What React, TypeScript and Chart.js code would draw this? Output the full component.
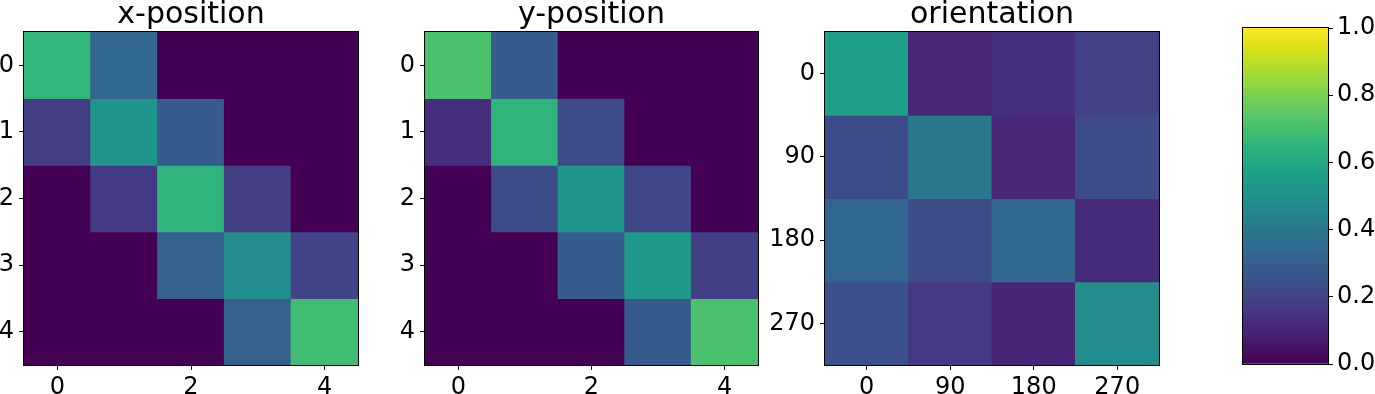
import React, { useEffect, useRef } from 'react';
import { Chart, registerables } from 'chart.js';

Chart.register(...registerables);
Chart.defaults.font.family = "'DejaVu Sans', sans-serif";

// ---------------- data ----------------
const positionLabels = ['0', '1', '2', '3', '4'];
const positionXTicks = [0, 2, 4];
const positionYTicks = [0, 1, 2, 3, 4];

const orientationLabels = ['0', '90', '180', '270'];
const orientationTicks = [0, 1, 2, 3];

const xPositionValues = [
  [0.66, 0.33, 0.0, 0.0, 0.0],
  [0.18, 0.52, 0.29, 0.0, 0.0],
  [0.0, 0.17, 0.65, 0.18, 0.0],
  [0.0, 0.0, 0.31, 0.48, 0.2],
  [0.0, 0.0, 0.0, 0.31, 0.69],
];

const yPositionValues = [
  [0.71, 0.29, 0.0, 0.0, 0.0],
  [0.13, 0.65, 0.23, 0.0, 0.0],
  [0.0, 0.23, 0.52, 0.21, 0.0],
  [0.0, 0.0, 0.29, 0.54, 0.185],
  [0.0, 0.0, 0.0, 0.29, 0.71],
];

const orientationValues = [
  [0.56, 0.11, 0.14, 0.19],
  [0.23, 0.4, 0.11, 0.23],
  [0.33, 0.23, 0.33, 0.12],
  [0.245, 0.17, 0.105, 0.48],
];

const colorbarTicks = [0, 0.2, 0.4, 0.6, 0.8, 1.0];

const viridisStops = [
  '#440154', '#471365', '#482475', '#463480', '#414487', '#3b528b', '#355f8d',
  '#2f6c8e', '#2a788e', '#25848e', '#21918c', '#1e9c89', '#22a884', '#2fb47c',
  '#44bf70', '#5ec962', '#7ad151', '#9bd93c', '#bddf26', '#dfe318', '#fde725',
];

// ---------------- helpers ----------------
function hexToRgb(h: string) {
  const n = parseInt(h.slice(1), 16);
  return [(n >> 16) & 255, (n >> 8) & 255, n & 255];
}

function viridis(t: number) {
  const v = Math.max(0, Math.min(1, t));
  const n = viridisStops.length - 1;
  const p = v * n;
  const i = Math.min(Math.floor(p), n - 1);
  const f = p - i;
  const a = hexToRgb(viridisStops[i]);
  const b = hexToRgb(viridisStops[i + 1]);
  const c = a.map((x, k) => Math.round(x + (b[k] - x) * f));
  return `rgb(${c[0]}, ${c[1]}, ${c[2]})`;
}

const TICK_FONT = { size: 24, family: "'DejaVu Sans', sans-serif" };

const framePlugin = {
  id: 'frameAndTitle',
  afterDraw(chart: any, _args: any, opts: any) {
    const { ctx, chartArea: a } = chart;
    ctx.save();
    ctx.strokeStyle = '#000';
    ctx.lineWidth = 1;
    ctx.strokeRect(
      Math.round(a.left) - 0.5,
      Math.round(a.top) - 0.5,
      Math.round(a.right - a.left) + 1,
      Math.round(a.bottom - a.top) + 1
    );
    if (opts && opts.text) {
      ctx.fillStyle = '#000';
      ctx.font = "30px 'DejaVu Sans', sans-serif";
      ctx.textAlign = 'center';
      ctx.textBaseline = 'alphabetic';
      ctx.fillText(opts.text, (a.left + a.right) / 2, a.top - 9);
    }
    ctx.restore();
  },
};

type HeatmapProps = {
  values: number[][];
  labels: string[];
  xTicks: number[];
  yTicks: number[];
  title: string;
  left: number;
  width: number;
  yAxisWidth: number;
  padRight: number;
};

const tickGrid = {
  drawOnChartArea: false,
  drawTicks: true,
  tickLength: 5,
  tickColor: '#000',
  color: '#000',
  offset: false,
};

function Heatmap(props: HeatmapProps) {
  const ref = useRef<HTMLCanvasElement | null>(null);
  useEffect(() => {
    if (!ref.current) return;
    const { values, labels, xTicks, yTicks, title, yAxisWidth, padRight } = props;
    const n = values.length;
    const datasets = values.map((row, r) => ({
      data: row.map((_v, c) => ({ x: c, y: [r - 0.5, r + 0.5] })),
      backgroundColor: row.map((v) => viridis(v)),
      borderWidth: 0,
      inflateAmount: 0.5,
      grouped: false,
      barPercentage: 1,
      categoryPercentage: 1,
    }));
    const chart = new Chart(ref.current, {
      type: 'bar',
      data: { datasets: datasets as any },
      options: {
        animation: false,
        responsive: false,
        devicePixelRatio: 1,
        layout: { padding: { top: 32, left: 0, right: padRight, bottom: 0 } },
        plugins: {
          legend: { display: false },
          tooltip: { enabled: false },
          frameAndTitle: { text: title },
        } as any,
        scales: {
          x: {
            type: 'linear',
            offset: false,
            min: -0.5,
            max: n - 0.5,
            afterBuildTicks: (s: any) => {
              s.ticks = xTicks.map((v) => ({ value: v }));
            },
            afterFit: (s: any) => {
              s.height = 29;
            },
            ticks: {
              autoSkip: false,
              maxRotation: 0,
              padding: 3,
              color: '#000',
              font: TICK_FONT,
              callback: (v: any) => labels[v],
            },
            grid: tickGrid,
            border: { display: false },
          },
          y: {
            type: 'linear',
            offset: false,
            reverse: true,
            min: -0.5,
            max: n - 0.5,
            afterBuildTicks: (s: any) => {
              s.ticks = yTicks.map((v) => ({ value: v }));
            },
            afterFit: (s: any) => {
              s.width = yAxisWidth;
            },
            ticks: {
              autoSkip: false,
              padding: 5,
              color: '#000',
              font: TICK_FONT,
              callback: (v: any) => labels[v],
            },
            grid: tickGrid,
            border: { display: false },
          },
        },
      } as any,
      plugins: [framePlugin],
    });
    return () => chart.destroy();
  }, []);
  return (
    <canvas
      ref={ref}
      width={props.width}
      height={394}
      style={{ position: 'absolute', left: props.left, top: 0, width: props.width, height: 394 }}
    />
  );
}

function Colorbar() {
  const ref = useRef<HTMLCanvasElement | null>(null);
  useEffect(() => {
    if (!ref.current) return;
    const chart = new Chart(ref.current, {
      type: 'bar',
      data: {
        labels: [''],
        datasets: [
          {
            data: [[colorbarTicks[0], colorbarTicks[colorbarTicks.length - 1]]],
            backgroundColor: (ctx: any) => {
              const area = ctx.chart.chartArea;
              if (!area) return viridis(0.5);
              const g = ctx.chart.ctx.createLinearGradient(0, area.bottom, 0, area.top);
              viridisStops.forEach((c, i) => g.addColorStop(i / (viridisStops.length - 1), c));
              return g;
            },
            borderWidth: 0,
            barPercentage: 1,
            categoryPercentage: 1,
          },
        ],
      } as any,
      options: {
        animation: false,
        responsive: false,
        devicePixelRatio: 1,
        layout: { padding: { top: 28, left: 63, right: 0, bottom: 30 } },
        plugins: {
          legend: { display: false },
          tooltip: { enabled: false },
          frameAndTitle: { text: '' },
        } as any,
        scales: {
          x: { type: 'category', display: false },
          y: {
            type: 'linear',
            position: 'right',
            min: 0,
            max: 1,
            afterBuildTicks: (s: any) => {
              s.ticks = colorbarTicks.map((v) => ({ value: v }));
            },
            afterFit: (s: any) => {
              s.width = 47;
            },
            ticks: {
              autoSkip: false,
              padding: 4,
              color: '#000',
              font: TICK_FONT,
              callback: (v: any) => Number(v).toFixed(1),
            },
            grid: tickGrid,
            border: { display: false },
          },
        },
      } as any,
      plugins: [framePlugin],
    });
    return () => chart.destroy();
  }, []);
  return (
    <canvas
      ref={ref}
      width={195}
      height={394}
      style={{ position: 'absolute', left: 1180, top: 0, width: 195, height: 394 }}
    />
  );
}

export default function App() {
  return (
    <div style={{ position: 'absolute', left: 0, top: 0, width: 1375, height: 394, background: '#fff', overflow: 'hidden' }}>
      <Heatmap
        values={xPositionValues}
        labels={positionLabels}
        xTicks={positionXTicks}
        yTicks={positionYTicks}
        title="x-position"
        left={0}
        width={380}
        yAxisWidth={24}
        padRight={22}
      />
      <Heatmap
        values={yPositionValues}
        labels={positionLabels}
        xTicks={positionXTicks}
        yTicks={positionYTicks}
        title="y-position"
        left={380}
        width={380}
        yAxisWidth={45}
        padRight={2}
      />
      <Heatmap
        values={orientationValues}
        labels={orientationLabels}
        xTicks={orientationTicks}
        yTicks={orientationTicks}
        title="orientation"
        left={760}
        width={420}
        yAxisWidth={65}
        padRight={21}
      />
      <Colorbar />
    </div>
  );
}
